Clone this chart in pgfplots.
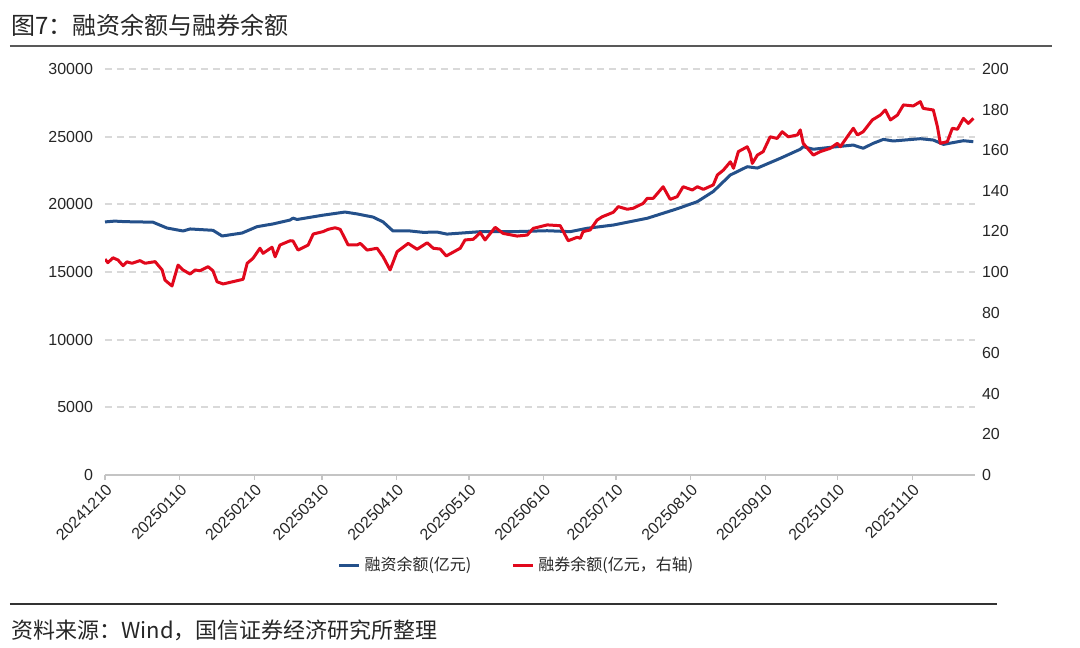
\documentclass[border=0pt]{standalone}
\usepackage{fontspec}
\setmainfont{Liberation Sans}
\newfontfamily\cjk{Noto Sans CJK SC}
\usepackage{pgfplots}
\usepackage{pgfplotstable}
\pgfplotsset{compat=1.18}
\definecolor{finblue}{HTML}{24508A}
\definecolor{secred}{HTML}{E1081C}
\definecolor{gridgray}{HTML}{D9D9D9}
\definecolor{axgray}{HTML}{C4C4C4}
\definecolor{txt}{HTML}{262626}

% d = calendar days since 2024-12-10
\pgfplotstableread{
d v
0 18700
4.0 18760
8.3 18720
14.0 18700
19.9 18680
25.7 18250
32.4 18030
35.3 18180
44.8 18080
48.6 17660
56.9 17880
63.1 18350
69.7 18550
76.8 18840
78.0 18980
79.7 18880
90.5 19200
99.6 19430
104.6 19290
111.2 19060
115.4 18700
119.5 18030
126.6 18030
132.0 17930
137.8 17950
141.9 17800
155.7 17980
169.4 17980
183.5 18050
193.0 17980
200.1 18230
210.9 18470
225.0 18970
235.8 19580
238.7 19750
245.8 20200
252.4 20950
259.5 22170
266.5 22780
270.7 22680
280.2 23400
288.5 24070
289.7 24260
293.9 24070
300.9 24210
310.5 24380
314.6 24140
318.8 24510
323.0 24800
327.1 24680
338.3 24850
343.7 24750
347.9 24430
356.2 24700
360.3 24630
}\finance

\pgfplotstableread{
d v
0 106.3
1.2 104.6
3.3 107
5.4 105.9
7.5 103.1
9.1 105
11.2 104.3
14.5 105.6
16.6 104.3
20.8 105.1
23.7 101
24.9 96
27.8 93.1
30.3 103.4
32.4 101
35.3 99
37.4 101
39.4 100.6
42.8 102.6
44.8 100.6
46.5 95.2
49.0 94.1
57.3 96.4
59.0 104.3
61.4 106.7
64.3 111.7
65.6 109.2
69.3 112.2
70.6 107.5
72.6 113.3
76.8 115.4
78.0 115.3
80.1 110.8
84.3 113.3
86.4 118.7
90.5 119.9
92.6 121
95.5 121.8
97.6 121
100.9 113.3
104.6 113.3
105.9 114.1
108.8 110.8
112.9 111.7
115.4 107.5
118.3 101
121.2 110
125.8 114.1
129.5 111.2
133.7 114.4
136.2 111.7
139.1 111.3
141.6 107.9
147.4 111.7
149.4 115.8
152.8 116.1
155.7 119.4
157.7 115.8
161.9 122
165.2 119
171.0 117.7
175.2 118.2
177.7 121.5
183.5 123.2
188.9 122.8
192.2 115.4
195.9 117.1
197.2 116.6
198.4 119.9
201.3 120.7
204.2 125.6
206.3 127.2
210.9 129.4
213.0 132.2
216.7 130.9
219.2 131.4
223.3 133.8
225.0 136.3
227.5 136.3
231.6 142
234.5 135.8
237.4 137.1
239.9 142
243.7 140.4
245.8 142
248.3 140.7
252.4 142.9
254.1 147.8
256.6 150.2
259.5 154.3
260.8 151.1
262.8 159.3
266.5 161.7
267.7 158.5
268.6 153.5
270.7 157.6
273.1 159.3
276.0 166.6
278.9 165.8
281.0 169.1
283.5 166.6
287.3 167.5
288.5 170
289.7 163.4
293.9 157.6
296.8 159.3
300.9 160.9
303.9 163.4
305.1 161.7
308.0 166.6
310.5 170.8
312.2 167.5
314.6 169.1
318.4 174.9
321.7 177.3
323.8 179.8
325.9 174.9
328.8 177.3
331.3 182.3
335.4 181.8
338.3 183.9
339.5 180.6
343.7 179.8
345.4 171.6
346.6 163.4
349.5 164.2
351.6 170.8
353.7 170.3
356.2 175.7
358.2 173.2
360.3 175.7
}\shortsell

\begin{document}
\begin{tikzpicture}
\begin{axis}[
  name=left,
  scale only axis, width=435pt, height=203pt,
  xmin=0, xmax=361, ymin=0, ymax=30000,
  axis x line*=bottom, axis y line*=left,
  y axis line style={draw=none},
  x axis line style={color=axgray, line width=0.8pt},
  xtick={0,31,62,90,121,151,182,212,243,274,304,335},
  xticklabels={20241210,20250110,20250210,20250310,20250410,20250510,20250610,20250710,20250810,20250910,20251010,20251110},
  x tick style={color=axgray, line width=0.6pt},
  tick align=outside, major tick length=2.5pt,
  xticklabel style={rotate=45, anchor=north east, inner sep=1pt, font=\fontsize{8}{9}\selectfont, text=txt},
  ytick={5000,10000,15000,20000,25000,30000},
  extra y ticks={0}, extra y tick style={grid=none},
  y tick style={draw=none},
  yticklabel style={font=\fontsize{8}{9}\selectfont, text=txt},
  scaled y ticks=false,
  /pgf/number format/1000 sep={},
  /pgf/number format/assume math mode=true,
  ymajorgrids,
  grid style={dash pattern=on 3.5pt off 2.5pt, line width=1pt, gridgray},
  legend style={at={(0.474,-0.223)}, anchor=center, draw=none, fill=none,
    legend columns=2, font=\cjk\fontsize{8}{9}\selectfont, text=txt,
    /tikz/every even column/.append style={column sep=18pt}},
  legend image code/.code={\draw[#1] (0pt,0pt) -- (10pt,0pt);},
]
\addplot[finblue, line width=1.5pt, line join=round] table[x=d, y=v] {\finance};
\addlegendentry{融资余额(亿元)}
\addlegendimage{secred, line width=1.5pt}
\addlegendentry{融券余额(亿元，右轴)}
\end{axis}

\begin{axis}[
  at={(left.south west)}, anchor=south west,
  scale only axis, width=435pt, height=203pt,
  xmin=0, xmax=361, ymin=0, ymax=200,
  axis x line=none, axis y line*=right,
  y axis line style={draw=none},
  ytick={0,20,...,200},
  y tick style={draw=none},
  yticklabel style={font=\fontsize{8}{9}\selectfont, text=txt},
  /pgf/number format/assume math mode=true,
]
\addplot[secred, line width=1.5pt, line join=round] table[x=d, y=v] {\shortsell};
\end{axis}

\begin{scope}[shift={(left.south west)}, x=1pt, y=1pt]
\node[anchor=west, font=\cjk\fontsize{12}{14}\selectfont, text=txt, inner sep=0pt] at (-47,225) {图7：融资余额与融券余额};
\draw[line width=0.8pt, color=black!65] (-47.5,214.5) -- (473.5,214.5);
\draw[line width=0.8pt, color=black!80] (-47.5,-64.5) -- (446,-64.5);
\node[anchor=west, font=\cjk\fontsize{11}{13}\selectfont, text=txt, inner sep=0pt] at (-47,-77.5) {资料来源：Wind，国信证券经济研究所整理};
\pgfresetboundingbox
\useasboundingbox (-52.5,-86) rectangle (487.5,237.5);
\end{scope}
\end{tikzpicture}
\end{document}
